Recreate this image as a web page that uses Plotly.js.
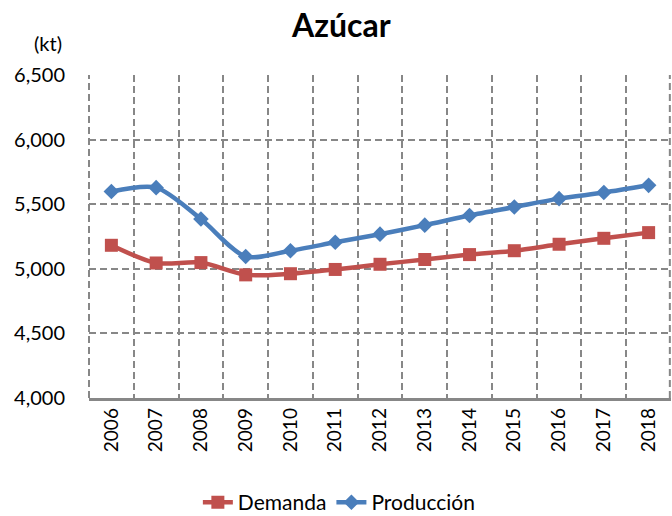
<!DOCTYPE html>
<html>
<head>
<meta charset="utf-8">
<script src="https://cdn.plot.ly/plotly-3.0.1.min.js"></script>
<style>html,body{margin:0;padding:0;background:#fff;}#chart{width:672px;height:516px;}</style>
</head>
<body>
<div id="chart"></div>
<script>
const years = ['2006','2007','2008','2009','2010','2011','2012','2013','2014','2015','2016','2017','2018'];
const demanda = [5182, 5045, 5048, 4953, 4962, 4995, 5035, 5072, 5110, 5140, 5190, 5236, 5280];
const produccion = [5598, 5628, 5385, 5095, 5140, 5205, 5268, 5338, 5413, 5478, 5543, 5590, 5646];
const yTicks = [4000, 4500, 5000, 5500, 6000, 6500];

const FONT = 'Lato, "Open Sans", sans-serif';
const GRID = '#878787';
const DASH = '7px,4px';

const traces = [
  {
    x: years, y: demanda, name: 'Demanda', type: 'scatter', mode: 'lines+markers',
    line: {color: '#C0504D', width: 4.5, shape: 'spline', smoothing: 0.8},
    marker: {symbol: 'square', size: 13, color: '#C0504D'}
  },
  {
    x: years, y: produccion, name: 'Producción', type: 'scatter', mode: 'lines+markers',
    line: {color: '#4A7EBB', width: 4.5, shape: 'spline', smoothing: 0.8},
    marker: {symbol: 'diamond', size: 12, color: '#4A7EBB'}
  }
];

const layout = {
  width: 672, height: 516,
  margin: {l: 89, r: 1, t: 75, b: 118, autoexpand: false},
  paper_bgcolor: '#fff', plot_bgcolor: '#fff',
  font: {family: FONT, color: '#000', size: 19},
  title: {text: '<b>Azúcar</b>', x: 0.508, xanchor: 'center', y: 0.95, yanchor: 'middle',
          font: {family: FONT, size: 32, color: '#000'}},
  showlegend: true,
  legend: {orientation: 'h', xref: 'container', yref: 'container', x: 0.505, xanchor: 'center',
           y: 0.026, yanchor: 'middle', font: {family: FONT, size: 21}, itemwidth: 30, tracegroupgap: 0},
  xaxis: {
    type: 'category', range: [-0.5, 12.5], fixedrange: true, automargin: false,
    tickson: 'boundaries', showgrid: true, gridcolor: GRID, gridwidth: 2, griddash: DASH,
    showline: true, linecolor: GRID, linewidth: 2.5,
    ticks: 'outside', ticklen: 5, tickcolor: 'rgba(0,0,0,0)', tickangle: -90,
    tickfont: {family: FONT, size: 19, color: '#000'}, zeroline: false
  },
  yaxis: {
    range: [4000, 6500], tickvals: yTicks, tickformat: ',d', fixedrange: true, automargin: false,
    showgrid: true, gridcolor: GRID, gridwidth: 2, griddash: DASH,
    showline: false, zeroline: false,
    ticks: 'outside', ticklen: 19, tickcolor: 'rgba(0,0,0,0)',
    tickfont: {family: FONT, size: 20, color: '#000'}
  },
  shapes: [
    {type: 'line', xref: 'paper', yref: 'paper', x0: 0, x1: 0, y0: 0, y1: 1, layer: 'below',
     line: {color: GRID, width: 2, dash: DASH}},
    {type: 'line', xref: 'paper', yref: 'paper', x0: 0.998, x1: 0.998, y0: 0, y1: 1, layer: 'below',
     line: {color: GRID, width: 2, dash: DASH}}
  ],
  annotations: [
    {text: '(kt)', xref: 'paper', yref: 'paper', x: -0.07, y: 1.1, xanchor: 'center', yanchor: 'middle',
     showarrow: false, font: {family: FONT, size: 20, color: '#000'}}
  ]
};

Plotly.newPlot('chart', traces, layout, {displayModeBar: false, staticPlot: true});
</script>
</body>
</html>
